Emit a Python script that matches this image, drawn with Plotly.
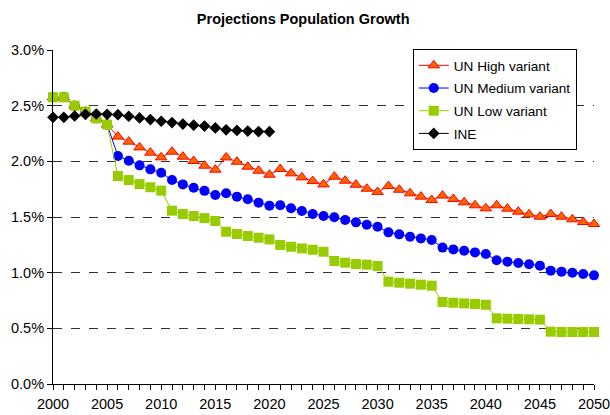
import plotly.graph_objects as go

years = list(range(2000, 2051))
ine_years = list(range(2000, 2021))

un_high = [2.575, 2.575, 2.50, 2.446, 2.386, 2.33,
           2.222, 2.177, 2.125, 2.078, 2.036,
           2.087, 2.042, 2.003, 1.961, 1.925,
           2.035, 1.996, 1.952, 1.916, 1.880,
           1.931, 1.892, 1.856, 1.823, 1.793,
           1.862, 1.826, 1.790, 1.754, 1.725,
           1.778, 1.745, 1.713, 1.683, 1.653,
           1.692, 1.662, 1.632, 1.605, 1.578,
           1.605, 1.575, 1.548, 1.524, 1.503,
           1.527, 1.503, 1.479, 1.455, 1.437]

un_medium = [2.575, 2.575, 2.50, 2.446, 2.386, 2.33,
             2.048, 2.006, 1.964, 1.928, 1.898,
             1.832, 1.793, 1.763, 1.735, 1.698,
             1.713, 1.683, 1.659, 1.629, 1.602,
             1.605, 1.578, 1.554, 1.527, 1.509,
             1.497, 1.473, 1.452, 1.431, 1.413,
             1.362, 1.344, 1.323, 1.308, 1.293,
             1.225, 1.209, 1.197, 1.182, 1.168,
             1.111, 1.099, 1.087, 1.075, 1.063,
             1.018, 1.009, 1.000, 0.988, 0.976]

un_low = [2.575, 2.575, 2.50, 2.446, 2.386, 2.33,
          1.868, 1.832, 1.796, 1.767, 1.737,
          1.557, 1.527, 1.509, 1.490, 1.464,
          1.368, 1.347, 1.329, 1.314, 1.299,
          1.249, 1.233, 1.218, 1.206, 1.188,
          1.105, 1.090, 1.078, 1.072, 1.060,
          0.919, 0.910, 0.901, 0.892, 0.883,
          0.737, 0.730, 0.724, 0.719, 0.712,
          0.590, 0.587, 0.584, 0.581, 0.578,
          0.470, 0.467, 0.467, 0.467, 0.467]

ine = [2.395, 2.395, 2.407, 2.422, 2.425, 2.422, 2.419, 2.405, 2.390,
       2.375, 2.360, 2.348, 2.335, 2.325, 2.317, 2.300, 2.283, 2.278,
       2.272, 2.267, 2.266]

FONT = "Liberation Sans, Arial, sans-serif"

fig = go.Figure()
fig.add_trace(go.Scatter(
    x=years, y=[v / 100 for v in un_high], name="UN High variant",
    mode="lines+markers", line=dict(color="#FF0000", width=1),
    marker=dict(symbol="triangle-up", size=10, color="#FF6600",
                line=dict(color="#FF0000", width=1)),
    legendgroup="a", cliponaxis=False))
fig.add_trace(go.Scatter(
    x=years, y=[v / 100 for v in un_medium], name="UN Medium variant",
    mode="lines+markers", line=dict(color="#0000FF", width=1),
    marker=dict(symbol="circle", size=10, color="#0000FF",
                line=dict(color="#0000FF", width=0)),
    legendgroup="b", cliponaxis=False))
fig.add_trace(go.Scatter(
    x=years, y=[v / 100 for v in un_low], name="UN Low variant",
    mode="lines+markers", line=dict(color="#99CC00", width=1),
    marker=dict(symbol="square", size=10, color="#99CC00",
                line=dict(color="#99CC00", width=0)),
    legendgroup="c", cliponaxis=False))
fig.add_trace(go.Scatter(
    x=ine_years, y=[v / 100 for v in ine], name="INE",
    mode="lines+markers", line=dict(color="#000000", width=1),
    marker=dict(symbol="diamond", size=9, color="#000000"),
    legendgroup="d", cliponaxis=False))

fig.update_layout(
    width=610, height=415,
    margin=dict(l=53, r=16, t=50, b=31, autoexpand=False),
    paper_bgcolor="white", plot_bgcolor="white",
    font=dict(family=FONT, size=14.5, color="#000000"),
    title=dict(text="<b>Projections Population Growth</b>", x=0.497, xref="container",
               y=0.955, yref="container", yanchor="middle", xanchor="center",
               font=dict(size=14.5)),
    legend=dict(x=0.665, y=1.003, xanchor="left", yanchor="top",
                bgcolor="white", bordercolor="#000000", borderwidth=1,
                tracegroupgap=2, font=dict(size=13.6)),
    xaxis=dict(range=[2000, 2050], tickmode="linear", tick0=2000, dtick=5,
               ticks="outside", ticklen=5, tickcolor="#000000",
               showline=True, linecolor="#000000", linewidth=1,
               showgrid=False, zeroline=False, automargin=False,
               ticklabeloverflow="allow", ticklabelstandoff=2,
               minor=dict(tickmode="linear", dtick=1, ticks="outside", ticklen=5,
                          tickcolor="#000000", showgrid=False)),
    yaxis=dict(range=[0, 0.03], tickmode="linear", tick0=0, dtick=0.005,
               tickformat=".1%", ticks="outside", ticklen=5, tickcolor="#000000",
               showline=True, linecolor="#000000", linewidth=1,
               showgrid=True, gridcolor="#333333", griddash="dash", gridwidth=1,
               zeroline=False, automargin=False, ticklabeloverflow="allow"),
)

fig.write_html("out.html", config={"displayModeBar": False},
               post_script="document.body.style.margin='0';document.body.style.overflow='hidden';")
